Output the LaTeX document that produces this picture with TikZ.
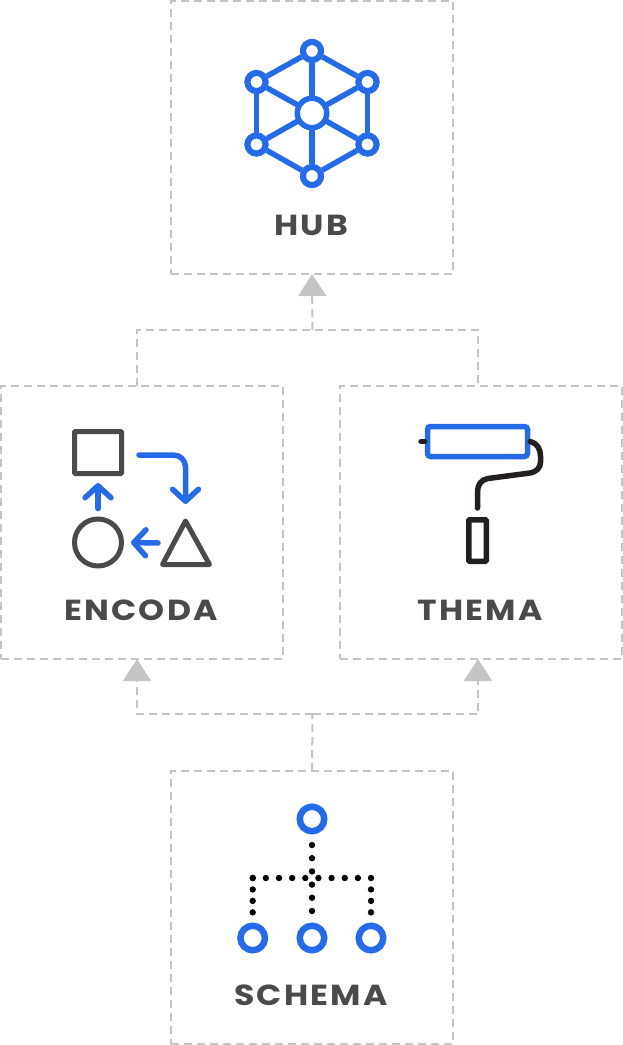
\documentclass[tikz,border=0pt]{standalone}
\usepackage{fontspec}
\usepackage{tikz}
\usetikzlibrary{arrows.meta,positioning}
\newfontfamily\labelfont[LetterSpace=8,FakeStretch=1.14]{Poppins}
\definecolor{hubblue}{HTML}{256BE8}
\definecolor{darkgrey}{HTML}{4A4A4A}
\definecolor{dashgrey}{HTML}{C4C4C4}
\definecolor{handleblack}{HTML}{231F20}
\tikzset{
	panel/.style={draw=dashgrey,line width=2pt,dash pattern=on 8pt off 5pt,minimum width=282pt,minimum height=273pt,inner sep=0pt,outer sep=0pt},
	flow/.style={draw=dashgrey,line width=2pt,dash pattern=on 8pt off 5pt},
	flowtip/.style={flow,-{Triangle[length=22pt,width=28pt,color=dashgrey]}},
	caption/.style={font=\labelfont\bfseries\fontsize{29}{32}\selectfont,text=darkgrey,inner sep=0pt,xshift=-1pt},
	hubdot/.style={circle,draw=hubblue,fill=white,line width=6pt,minimum size=18pt,inner sep=0pt},
	hubline/.style={draw=hubblue,line width=5.5pt},
	shapeicon/.style={draw=darkgrey,line width=5pt,inner sep=0pt},
	blueflow/.style={draw=hubblue,line width=5.5pt,line cap=round,-{Straight Barb[length=12pt,width=26pt,round]}},
	treedot/.style={circle,draw=hubblue,line width=6.5pt,minimum size=24.5pt,inner sep=0pt},
	dotted row/.style={line width=6.4pt,line cap=round,dash pattern=on 0pt off #1}
}
\begin{document}
\begin{tikzpicture}[x=1pt,y=-1pt,node distance=385pt,on grid]
\useasboundingbox (0,0) rectangle (623,1045);
% panels
\node[panel]		(hub)		at (312,137.5)					{};
\node[panel]		(encoda)	[below left=385pt and 170pt of hub]		{};
\node[panel]		(thema)		[below right=385pt and 169pt of hub]	{};
\node[panel]		(schema)	[below=770pt of hub]				{};
% labels
\node[caption]		(hub_l)		[below=88pt of hub]		{HUB};
\node[caption]		(encoda_l)	[below=88pt of encoda]	{ENCODA};
\node[caption]		(thema_l)	[below=88pt of thema]	{THEMA};
\node[caption]		(schema_l)	[below=88pt of schema]	{SCHEMA};
% connectors
\coordinate (upjoin) at (312.5,330);
\coordinate (downjoin) at (312.5,714);
\draw[flow] ([xshift=-5pt]encoda.north) |- (upjoin) -| ([xshift=-3pt]thema.north);
\draw[flowtip] (upjoin) -- (hub.south);
\draw[flow] (schema.north) -- (downjoin);
\draw[flowtip] (downjoin) -| ([xshift=-5pt]encoda.south);
\draw[flowtip] (downjoin) -| ([xshift=-3pt]thema.south);
% hub icon
\coordinate (h_c) at (312,113);
\node[hubdot] (h_t) at (312,51) {};
\node[hubdot] (h_ur) at (367.5,82) {};
\node[hubdot] (h_lr) at (367.5,144.5) {};
\node[hubdot] (h_b) at (312,176) {};
\node[hubdot] (h_ll) at (256.5,144.5) {};
\node[hubdot] (h_ul) at (256.5,82) {};
\foreach \a/\b in {h_t/h_ur,h_ur/h_lr,h_lr/h_b,h_b/h_ll,h_ll/h_ul,h_ul/h_t,h_t/h_c,h_ur/h_c,h_lr/h_c,h_b/h_c,h_ll/h_c,h_ul/h_c}
	\draw[hubline] (\a) -- (\b);
\node[hubdot,line width=5.5pt,minimum size=29.5pt] (h_m) at (h_c) {};
\foreach \a in {h_t,h_ur,h_lr,h_b,h_ll,h_ul}
	\node[hubdot] at (\a) {};
% encoda icon
\node[shapeicon,rectangle,rounded corners=1pt,minimum width=47pt,minimum height=42pt] (e_sq) at (98,452.5) {};
\node[shapeicon,circle,minimum size=47pt] (e_ci) at (98,542.5) {};
\coordinate (e_tri) at (185.5,521);
\draw[darkgrey,line width=5pt,line join=round] (e_tri) -- (209.5,564.5) -- (162.5,564.5) -- cycle;
\draw[blueflow] ([yshift=8pt]e_ci.north) -- ([yshift=-7pt]e_sq.south);
\draw[blueflow,rounded corners=12pt] ([xshift=15pt,yshift=-2.5pt]e_sq.east) -| ([yshift=17pt]e_tri);
\draw[blueflow] (158,543) -- ([xshift=7pt]e_ci.east);
% thema icon
\node[draw=hubblue,line width=5.5pt,rounded corners=3pt,minimum width=100pt,minimum height=30pt,inner sep=0pt] (t_roll) at (477.5,441.5) {};
\node[draw=handleblack,line width=5.5pt,rounded corners=1pt,minimum width=17.5pt,minimum height=41.5pt,inner sep=0pt] (t_grip) at (477.5,540.5) {};
\coordinate (t_stub) at (421,441.5);
\draw[handleblack,line width=5.5pt,line cap=round] (t_stub) -- (t_roll.west);
\draw[handleblack,line width=5.5pt,line cap=round] (t_roll.east) .. controls (537,443) and (540.5,449) .. (540.5,456) -- (540.5,462) .. controls (540.5,468) and (536,472) .. (530,473) -- (488,478.5) .. controls (481,479.5) and (477.5,485) .. (477.5,492) -- ([yshift=9pt]t_grip.north);
% schema icon
\node[treedot] (s_r) at (312,819) {};
\node[treedot] (s_a) at (252.7,938) {};
\node[treedot] (s_b) at (312,938) {};
\node[treedot] (s_c) at (371,938) {};
\coordinate (s_barl) at (252.7,878);
\coordinate (s_barr) at (371,878);
\draw[dotted row=13.15pt] (s_barl) -- (s_barr);
\draw[dotted row=13.2pt] ([yshift=-10.5pt]s_r.south) -- ([yshift=11pt]s_b.north);
\draw[dotted row=11.45pt] (s_barl) -- ([yshift=9.5pt]s_a.north);
\draw[dotted row=11.45pt] (s_barr) -- ([yshift=9.5pt]s_c.north);
\end{tikzpicture}
\end{document}
